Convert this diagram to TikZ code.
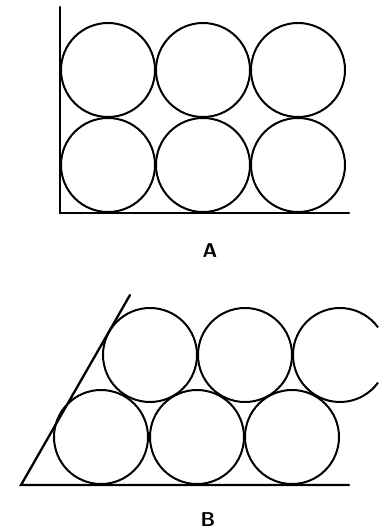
\documentclass[tikz,border=0pt]{standalone}
\usepackage{fontspec}
\usepackage{tikz}

\begin{document}
\begin{tikzpicture}[
    x=1pt, y=-1pt,
    wall/.style={line width=2.3pt, line cap=round},
    ball/.style={line width=2pt},
    tag/.style={font=\sffamily\bfseries\fontsize{20}{22}\selectfont}
]
\useasboundingbox (0,0) rectangle (383,530);

% A: square stacking in a corner
\draw[wall] (60,7) -- (60,213) -- (349,213);
\foreach \cx in {108,203,298}
  \foreach \cy in {70,165}
    \draw[ball] (\cx,\cy) circle[radius=47];
\node[tag] (labA) at (210,251) {A};

% B: close packing against a 60 degree wall
\draw[wall] (130,295) -- (21,485) -- (349,485);
\foreach \cx in {101,197,292}
  \draw[ball] (\cx,437) circle[radius=47];
\foreach \cx in {150,245}
  \draw[ball] (\cx,355) circle[radius=47];
% last one is cut off at the right
\draw[ball] (340,355) ++(36:47) arc[start angle=36, end angle=324, radius=47];
\node[tag] (labB) at (208,520) {B};

\end{tikzpicture}
\end{document}
